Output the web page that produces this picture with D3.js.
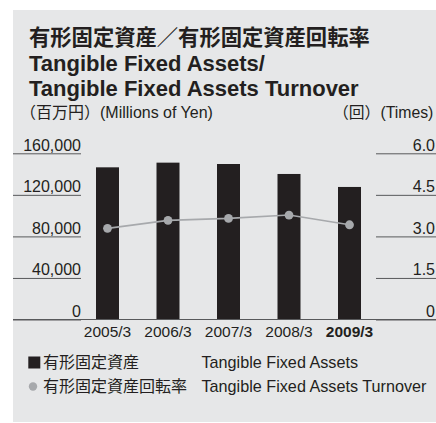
<!DOCTYPE html>
<html>
<head>
<meta charset="utf-8">
<script src="https://cdn.jsdelivr.net/npm/d3@7"></script>
<style>
  html, body { margin: 0; padding: 0; background: #ffffff; }
  svg { display: block; }
  text { font-family: "Liberation Sans", Arial, "Noto Sans CJK JP", sans-serif; fill: #231f20; }
</style>
</head>
<body>
<svg id="chart" width="436" height="423"></svg>
<script>
// Fiscal years (March year-end)
const years = ["2005/3", "2006/3", "2007/3", "2008/3", "2009/3"];
// Tangible fixed assets, millions of yen
const assets = [146500, 151000, 149700, 140100, 127600];
// Tangible fixed assets turnover, times
const turnover = [3.29, 3.58, 3.65, 3.77, 3.42];
// Axis ticks
const leftTicks = [0, 40000, 80000, 120000, 160000];
const rightTicks = [0, 1.5, 3.0, 4.5, 6.0];

const titleLines = ["有形固定資産／有形固定資産回転率", "Tangible Fixed Assets/", "Tangible Fixed Assets Turnover"];
const legendItems = [
  { jp: "有形固定資産", en: "Tangible Fixed Assets", shape: "square" },
  { jp: "有形固定資産回転率", en: "Tangible Fixed Assets Turnover", shape: "circle" }
];

const W = 436, H = 423;
const ink = "#231f20", soft = "#2e2a2b", barColor = "#231f20", lineGrey = "#a7a9ac", rule = "#58595b";
const svg = d3.select("#chart");

// panel background
svg.append("rect").attr("x", 13).attr("y", 10).attr("width", W - 13).attr("height", 412).attr("fill", "#e6e7e8");

// titles
svg.append("text").attr("x", 29).attr("y", 45)
  .style("font-family", "'Noto Sans CJK JP', sans-serif").style("font-weight", 700).style("font-size", "21.3px")
  .text(titleLines[0]);
svg.append("text").attr("x", 29).attr("y", 71)
  .style("font-weight", 700).style("font-size", "22px").text(titleLines[1]);
svg.append("text").attr("x", 29).attr("y", 96)
  .style("font-weight", 700).style("font-size", "22px").text(titleLines[2]);

// unit captions
svg.append("text").attr("x", 20).attr("y", 118).attr("fill", soft).style("font-size", "16px").text("（百万円）(Millions of Yen)");
svg.append("text").attr("x", 333).attr("y", 118).attr("fill", soft).style("font-size", "15.8px").text("（回）(Times)");

// scales
const x = d3.scaleBand().domain(years).range([77.25, 379.75]).paddingInner(0.62).paddingOuter(0.31);
const yL = d3.scaleLinear().domain([0, 160000]).range([319.5, 153.3]);
const yR = d3.scaleLinear().domain([0, 6]).range([319.5, 153.3]);

// left axis: underlined labels
const gL = svg.append("g").attr("transform", "translate(13,0)")
  .call(d3.axisRight(yL).tickValues(leftTicks).tickSize(68).tickFormat(d3.format(",")));
gL.select(".domain").remove();
gL.selectAll(".tick line").attr("stroke", rule).attr("stroke-width", 1);
gL.selectAll(".tick text").attr("x", 68).attr("dy", "-3px").attr("text-anchor", "end")
  .attr("fill", soft).style("font-size", "16px").style("font-family", "'Liberation Sans', Arial, sans-serif");

// right axis
const gR = svg.append("g").attr("transform", `translate(${W},0)`)
  .call(d3.axisLeft(yR).tickValues(rightTicks).tickSize(60).tickFormat(d => d === 0 ? "0" : d3.format(".1f")(d)));
gR.select(".domain").remove();
gR.selectAll(".tick line").attr("stroke", rule).attr("stroke-width", 1);
gR.selectAll(".tick text").attr("x", -1).attr("dy", "-3px").attr("text-anchor", "end")
  .attr("fill", soft).style("font-size", "16px").style("font-family", "'Liberation Sans', Arial, sans-serif");

// bars
svg.append("g").selectAll("rect").data(assets).join("rect")
  .attr("x", (d, i) => x(years[i]))
  .attr("y", d => yL(d))
  .attr("width", x.bandwidth())
  .attr("height", d => yL(0) - yL(d))
  .attr("fill", barColor);

// baseline across the panel
svg.append("line").attr("x1", 13).attr("x2", W).attr("y1", yL(0)).attr("y2", yL(0))
  .attr("stroke", rule).attr("stroke-width", 1.2);

// x axis labels
const gX = svg.append("g").attr("transform", `translate(0,${yL(0)})`)
  .call(d3.axisBottom(x).tickSize(0).tickPadding(6));
gX.select(".domain").remove();
gX.selectAll(".tick text").style("font-size", "15.5px")
  .style("font-family", "'Liberation Sans', Arial, sans-serif")
  .style("font-weight", (d, i) => i === years.length - 1 ? 700 : 400)
  .attr("fill", (d, i) => i === years.length - 1 ? ink : soft);

// turnover line
const cx = (d, i) => x(years[i]) + x.bandwidth() / 2;
svg.append("path").datum(turnover)
  .attr("d", d3.line().x(cx).y(d => yR(d)))
  .attr("fill", "none").attr("stroke", lineGrey).attr("stroke-width", 1.6);
svg.append("g").selectAll("circle").data(turnover).join("circle")
  .attr("cx", cx).attr("cy", d => yR(d)).attr("r", 4.4).attr("fill", lineGrey);

// legend
const lg = svg.append("g");
legendItems.forEach((item, i) => {
  const by = 368 + i * 24;
  if (item.shape === "square") {
    lg.append("rect").attr("x", 28.3).attr("y", by - 11.5).attr("width", 12).attr("height", 12).attr("fill", barColor);
  } else {
    lg.append("circle").attr("cx", 33).attr("cy", by - 5.5).attr("r", 4.2).attr("fill", lineGrey);
  }
  lg.append("text").attr("x", 43).attr("y", by).attr("fill", soft)
    .style("font-family", "'Noto Sans CJK JP', sans-serif").style("font-size", "16px").text(item.jp);
  lg.append("text").attr("x", 201.5).attr("y", by).attr("fill", soft)
    .style("font-size", "16.2px").text(item.en);
});
</script>
</body>
</html>
